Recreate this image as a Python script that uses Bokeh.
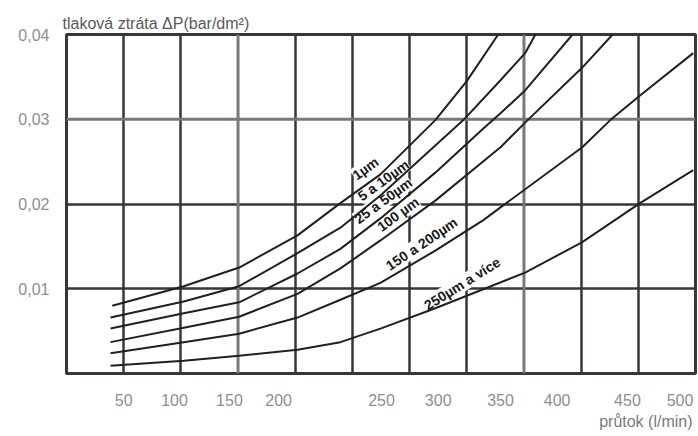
from bokeh.plotting import figure
from bokeh.models import FixedTicker, Grid, Span, LabelSet, Title, ColumnDataSource, Range1d
from bokeh.core.properties import value
from bokeh.embed import file_html
from bokeh.resources import INLINE
import math

# ---- data (x in chart grid divisions, y in bar/dm2) ----
x_tick_pos = [1.00, 1.89, 2.85, 3.71, 5.51, 6.50, 7.59, 8.58, 9.81, 10.73]
x_tick_labels = ["50", "100", "150", "200", "250", "300", "350", "400", "450", "500"]
y_ticks = [0.01, 0.02, 0.03, 0.04]
y_tick_labels = ["0,01", "0,02", "0,03", "0,04"]

c1_x = [0.80, 2.05, 3.02, 4.04, 4.79, 5.49, 6.45, 7.00, 7.55]
c1_y = [0.0080, 0.0103, 0.0125, 0.0163, 0.0201, 0.0235, 0.0299, 0.0345, 0.0400]
c2_x = [0.77, 2.05, 3.02, 4.04, 4.79, 5.49, 6.45, 6.94, 7.59, 8.02, 8.20]
c2_y = [0.0066, 0.0085, 0.0103, 0.0142, 0.0172, 0.0210, 0.0269, 0.0299, 0.0346, 0.0378, 0.0400]
c3_x = [0.77, 2.05, 3.02, 4.04, 4.79, 5.49, 6.45, 7.29, 7.59, 8.02, 8.85]
c3_y = [0.0053, 0.0071, 0.0084, 0.0118, 0.0147, 0.0183, 0.0237, 0.0289, 0.0307, 0.0334, 0.0400]
c4_x = [0.77, 2.05, 3.02, 4.04, 4.79, 5.49, 6.45, 7.59, 8.02, 9.02, 9.55]
c4_y = [0.0037, 0.0054, 0.0067, 0.0094, 0.0124, 0.0157, 0.0204, 0.0267, 0.0296, 0.0361, 0.0400]
c5_x = [0.77, 2.05, 3.02, 4.04, 4.79, 5.49, 6.45, 7.29, 7.59, 9.02, 9.51, 10.03, 10.96]
c5_y = [0.0024, 0.0037, 0.0047, 0.0066, 0.0087, 0.0107, 0.0145, 0.0181, 0.0196, 0.0267, 0.0299, 0.0328, 0.0378]
c6_x = [0.77, 2.05, 3.02, 4.04, 4.79, 5.49, 6.45, 8.02, 9.02, 10.03, 10.96]
c6_y = [0.0009, 0.0015, 0.0021, 0.0028, 0.0037, 0.0053, 0.0077, 0.0119, 0.0155, 0.0201, 0.0240]

curve_labels = ["1µm", "5 a 10µm", "25 a 50µm", "100 µm", "150 a 200µm", "250µm a více"]
curve_label_x = [5.23, 5.54, 5.54, 5.80, 6.21, 6.92]
curve_label_y = [0.0242, 0.0228, 0.0204, 0.0188, 0.0153, 0.0106]
curve_label_deg = [36, 36, 36, 36, 34, 32]

DARK = "#3a3536"
GRAY = "#7b7778"
FONT = "Liberation Sans"

p = figure(width=698, height=436, output_backend="svg", toolbar_location=None,
           x_range=Range1d(0, 11), y_range=Range1d(0, 0.04),
           min_border_left=66, min_border_right=3, min_border_top=34, min_border_bottom=63)
p.background_fill_color = "white"
p.border_fill_color = "white"
p.outline_line_color = DARK
p.outline_line_width = 3
for g in p.grid:
    g.visible = False

# titles
p.title = Title(text="tlaková ztráta ΔP(bar/dm²)", align="left", offset=-4, standoff=5,
                text_font=FONT, text_font_size="16px", text_font_style="normal",
                text_color="#5a5a5a")

# axes
p.xaxis.ticker = FixedTicker(ticks=x_tick_pos)
p.xaxis.major_label_overrides = dict(zip(x_tick_pos, x_tick_labels))
p.yaxis.ticker = FixedTicker(ticks=y_ticks)
p.yaxis.major_label_overrides = dict(zip(y_ticks, y_tick_labels))
for ax in (p.xaxis, p.yaxis):
    ax.axis_line_color = None
    ax.major_tick_line_color = None
    ax.minor_tick_line_color = None
    ax.major_tick_in = 0
    ax.major_tick_out = 0
    ax.minor_tick_in = 0
    ax.minor_tick_out = 0
    ax.major_label_text_font = FONT
    ax.major_label_text_font_size = "16px"
    ax.major_label_text_color = "#8e8e8e"
p.xaxis.major_label_standoff = 20
p.yaxis.major_label_standoff = 17

p.add_layout(Title(text="průtok (l/min)", align="right", standoff=5, offset=3,
                   text_font=FONT, text_font_size="16px", text_font_style="normal",
                   text_color="#7a7a7a"), "below")

# grid
p.add_layout(Grid(dimension=0, ticker=FixedTicker(ticks=[1, 2, 4, 5, 6, 7, 9, 10]),
                  grid_line_color=DARK, grid_line_width=2.5))
p.add_layout(Grid(dimension=1, ticker=FixedTicker(ticks=[0.01, 0.02]),
                  grid_line_color=DARK, grid_line_width=2.5))
for loc, dim in ((3, "height"), (8, "height"), (0.03, "width")):
    p.add_layout(Span(location=loc, dimension=dim, line_color=GRAY, line_width=3, level="underlay"))

# curve labels (under the curves, white background hides grid)
src = ColumnDataSource(dict(x=curve_label_x, y=curve_label_y, text=curve_labels,
                            angle=[math.radians(d) for d in curve_label_deg]))
p.add_layout(LabelSet(x="x", y="y", text="text", angle="angle", source=src,
                      text_font=value(FONT), text_font_style="bold", text_font_size="14px",
                      text_color="#1a1718", text_align="center", text_baseline="middle",
                      background_fill_color="white", level="underlay"))

# curves
for cx, cy in ((c1_x, c1_y), (c2_x, c2_y), (c3_x, c3_y), (c4_x, c4_y), (c5_x, c5_y), (c6_x, c6_y)):
    p.line(cx, cy, line_color="#231f20", line_width=2)

open("out.html", "w").write(file_html(p, INLINE))
